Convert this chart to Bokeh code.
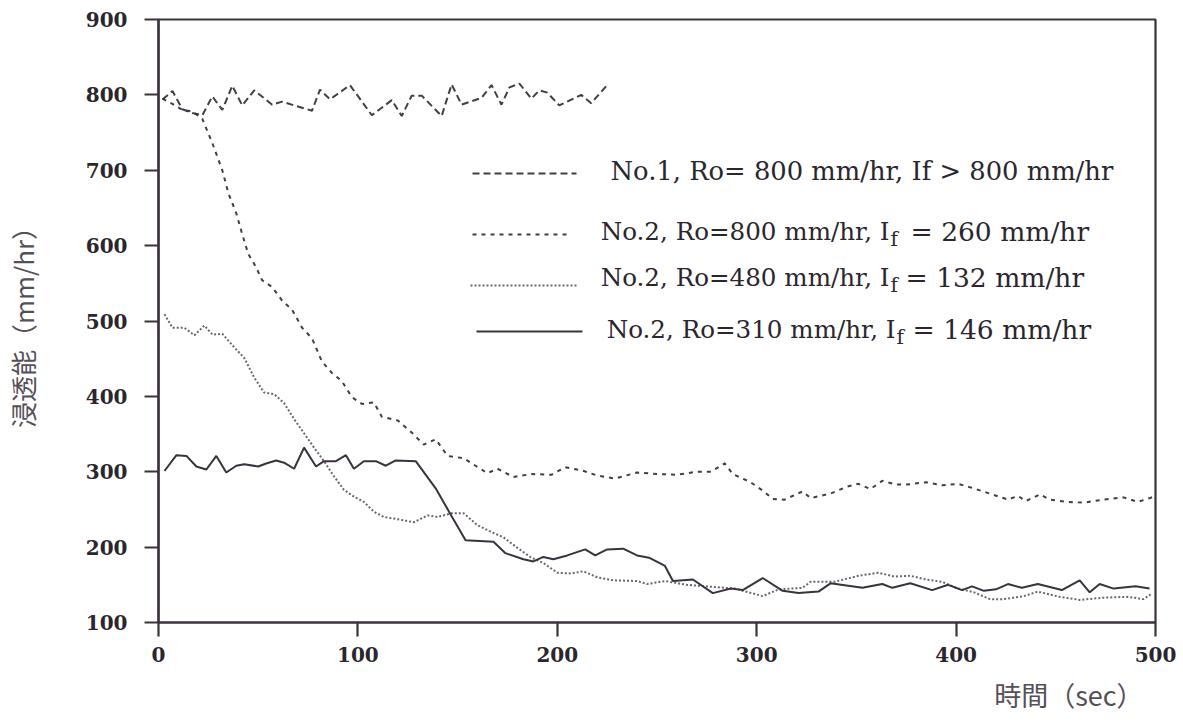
import math
from bokeh.plotting import figure
from bokeh.models import Range1d, FixedTicker, Label, LinearAxis, Title
from bokeh.embed import file_html
from bokeh.resources import INLINE

# ---------------- data ----------------
x_ticks = [0, 100, 200, 300, 400, 500]
y_ticks = [100, 200, 300, 400, 500, 600, 700, 800, 900]

# No.1, Ro=800 mm/hr, If > 800 mm/hr  (long dash)
s1_t = [2, 7, 12, 17, 22, 27, 32, 37, 42, 48, 57, 62, 68, 77, 81, 86, 96, 107, 117,
        122, 127, 132, 142, 147, 152, 162, 167, 172, 176, 181, 187, 191, 195, 201,
        212, 217, 225]
s1_v = [794, 805, 781, 776, 773, 798, 780, 812, 786, 806, 787, 791, 786, 779, 807,
        794, 813, 773, 793, 772, 799, 799, 772, 814, 787, 796, 813, 787, 810, 815,
        795, 806, 803, 786, 800, 789, 813]

# No.2, Ro=800 mm/hr, If = 260 mm/hr  (short dash)
s2_t = [2, 7, 12, 17, 22, 27, 32, 35, 39, 42, 45, 49, 52, 57, 62, 67, 72, 77, 82, 87,
        92, 97, 102, 108, 112, 120, 127, 133, 139, 145, 153, 165, 170, 178, 187, 197,
        204, 212, 220, 229, 240, 250, 260, 270, 277, 284, 288, 297, 303, 308, 314,
        323, 327, 337, 345, 351, 357, 363, 370, 375, 385, 393, 401, 410, 418, 426,
        431, 435, 442, 447, 456, 464, 474, 484, 491, 496, 500]
s2_v = [795, 788, 780, 778, 768, 736, 700, 670, 643, 615, 589, 571, 554, 545, 527,
        515, 491, 477, 446, 431, 420, 399, 390, 392, 373, 368, 352, 336, 343, 321,
        318, 298, 304, 293, 297, 296, 306, 302, 295, 291, 299, 297, 296, 300, 300,
        311, 297, 286, 275, 264, 263, 274, 265, 271, 280, 284, 277, 288, 283, 283,
        286, 282, 284, 277, 270, 263, 268, 261, 270, 263, 260, 259, 263, 266, 260,
        264, 268]

# No.2, Ro=480 mm/hr, If = 132 mm/hr  (dotted)
s3_t = [3, 7, 13, 18, 23, 27, 32, 38, 43, 48, 53, 58, 63, 68, 73, 78, 83, 88, 93, 98,
        103, 108, 113, 120, 128, 135, 140, 147, 153, 160, 167, 173, 180, 187, 193,
        200, 207, 213, 220, 228, 240, 245, 254, 265, 279, 289, 303, 311, 323, 327,
        339, 351, 361, 369, 377, 385, 393, 401, 409, 417, 424, 434, 441, 452, 462,
        474, 486, 494, 498]
s3_v = [509, 491, 491, 481, 494, 482, 483, 465, 451, 425, 405, 403, 391, 370, 351,
        332, 314, 294, 276, 267, 260, 247, 240, 237, 233, 242, 240, 245, 245, 229,
        220, 213, 199, 186, 179, 166, 165, 168, 160, 156, 155, 151, 155, 150, 147,
        145, 135, 144, 146, 154, 154, 162, 166, 161, 162, 157, 154, 145, 140, 131,
        131, 135, 141, 134, 130, 133, 134, 131, 138]

# No.2, Ro=310 mm/hr, If = 146 mm/hr  (solid)
s4_t = [3, 9, 14, 19, 24, 29, 34, 39, 43, 50, 54, 59, 63, 68, 73, 79, 83, 89, 94, 98,
        103, 109, 114, 119, 129, 139, 147, 154, 168, 174, 183, 188, 193, 198, 205,
        214, 219, 225, 233, 240, 246, 254, 258, 268, 278, 287, 293, 303, 313, 321,
        331, 337, 353, 363, 368, 377, 388, 396, 403, 408, 414, 420, 426, 433, 441,
        453, 462, 467, 472, 479, 490, 497]
s4_v = [301, 322, 321, 307, 303, 321, 299, 308, 310, 307, 311, 315, 312, 304, 332,
        307, 314, 314, 322, 304, 314, 314, 308, 315, 314, 278, 241, 209, 207, 192,
        184, 181, 187, 184, 189, 197, 189, 197, 198, 189, 186, 175, 155, 157, 139,
        145, 143, 159, 142, 139, 141, 152, 146, 151, 146, 152, 143, 150, 143, 148,
        142, 144, 151, 146, 151, 143, 156, 140, 151, 145, 148, 145]

legend_main = ["No.1, Ro= 800 mm/hr, If > 800 mm/hr",
               "No.2, Ro=800 mm/hr, I",
               "No.2, Ro=480 mm/hr, I",
               "No.2, Ro=310 mm/hr, I"]
legend_tail = [None, "= 260 mm/hr", "= 132 mm/hr", "= 146 mm/hr"]

x_title = "時間（sec）"
y_title = "浸透能（mm/hr）"

# ---------------- layout ----------------
W, H = 1183, 724
FL, FR, FT, FB = 158, 1155, 19, 622
INK = "#3a323c"
TXT = "#2b262d"
TITLE_C = "#555058"


def X(px):
    return (px - FL) * 500.0 / (FR - FL)


def Y(py):
    return 100.0 + (FB - py) * 800.0 / (FB - FT)


p = figure(width=W, height=H, x_range=Range1d(0, 500), y_range=Range1d(100, 900),
           output_backend="svg", toolbar_location=None,
           min_border_left=FL, min_border_right=W - FR,
           min_border_top=FT, min_border_bottom=H - FB)
p.background_fill_color = "white"
p.border_fill_color = "white"
p.outline_line_color = INK
p.outline_line_width = 2.2
p.grid.visible = False

for ax in (p.xaxis[0], p.yaxis[0]):
    ax.axis_line_color = INK
    ax.axis_line_width = 2.2
    ax.major_tick_line_color = INK
    ax.major_tick_line_width = 2.2
    ax.major_tick_in = 0
    ax.major_tick_out = 14
    ax.minor_tick_line_color = None
    ax.major_label_text_font = "DejaVu Serif"
    ax.major_label_text_font_style = "bold"
    ax.major_label_text_font_size = "20px"
    ax.major_label_text_color = TXT

p.xaxis.ticker = FixedTicker(ticks=x_ticks)
p.yaxis.ticker = FixedTicker(ticks=y_ticks)
p.xaxis.major_label_standoff = 10
p.yaxis.major_label_standoff = 17

# y-axis title: an extra, tick-less axis further out on the left
ytitle_axis = LinearAxis(ticker=FixedTicker(ticks=[]), axis_line_color=None,
                         major_tick_line_color=None, minor_tick_line_color=None,
                         axis_label=y_title, axis_label_standoff=42,
                         axis_label_text_font="Noto Sans CJK JP",
                         axis_label_text_font_style="normal",
                         axis_label_text_font_size="26px",
                         axis_label_text_color=TITLE_C)
p.add_layout(ytitle_axis, "left")

# x-axis title: right-aligned title below the axis
p.add_layout(Title(text=x_title, align="right", offset=12, standoff=17,
                   text_font="Noto Sans CJK JP", text_font_style="normal",
                   text_font_size="27px", text_color=TITLE_C), "below")

styles = [dict(line_dash="7 4", line_width=2.0, line_alpha=0.95),
          dict(line_dash="4 5", line_width=2.0, line_alpha=0.95),
          dict(line_dash="2 2", line_width=2.0, line_alpha=0.75),
          dict(line_dash="solid", line_width=2.0, line_alpha=1.0)]
series = [(s1_t, s1_v), (s2_t, s2_v), (s3_t, s3_v), (s4_t, s4_v)]
for (t, v), st in zip(series, styles):
    assert len(t) == len(v)
    p.line(t, v, line_color=INK, **st)

# ---------------- legend (hand-placed, as in the reference) ----------------
sample_px = [(472, 576, 173), (472, 569, 234), (470, 576, 285), (476, 582, 331)]
text_cy = [170, 231, 277, 329]
i_end = [None, 889, 889, 895]
eq_start = [None, 910, 905, 912]
for k in range(4):
    x0, x1, yy = sample_px[k]
    p.line([X(x0), X(x1)], [Y(yy), Y(yy)], line_color=INK, **styles[k])
    if k == 0:
        p.add_layout(Label(x=X(610), y=Y(text_cy[k]), text=legend_main[k],
                           text_font="DejaVu Serif", text_font_size="25.8px",
                           text_color=TXT, text_align="left", text_baseline="middle"))
    else:
        p.add_layout(Label(x=X(i_end[k]), y=Y(text_cy[k]), text=legend_main[k],
                           text_font="DejaVu Serif", text_font_size="24.6px",
                           text_color=TXT, text_align="right", text_baseline="middle"))
        p.add_layout(Label(x=X(i_end[k] + 1), y=Y(text_cy[k] + 7), text="f",
                           text_font="DejaVu Serif", text_font_size="20px",
                           text_color=TXT, text_align="left", text_baseline="middle"))
        p.add_layout(Label(x=X(eq_start[k]), y=Y(text_cy[k]), text=legend_tail[k],
                           text_font="DejaVu Serif", text_font_size="26.5px",
                           text_color=TXT, text_align="left", text_baseline="middle"))

open("out.html", "w").write(file_html(p, INLINE))
